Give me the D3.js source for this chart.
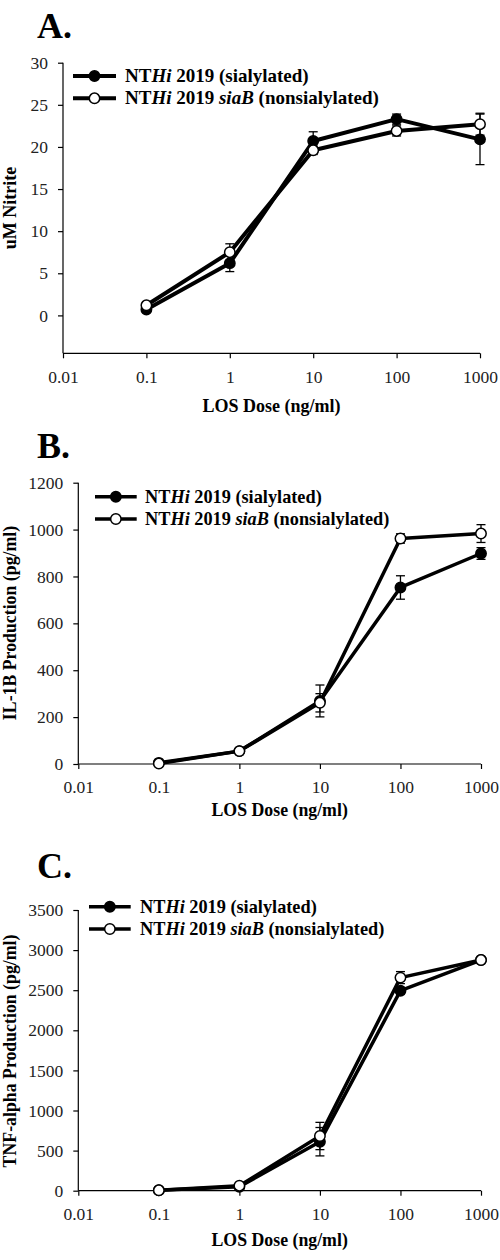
<!DOCTYPE html>
<html><head><meta charset="utf-8">
<script src="https://cdn.jsdelivr.net/npm/d3@7"></script>
<style>body{margin:0;background:#fff}svg{display:block}text{font-family:"Liberation Serif","Times New Roman",Times,"DejaVu Serif",serif;fill:#000}</style>
</head><body><svg id="c" width="500" height="1260"></svg>
<script>
const doses = [0.1, 1, 10, 100, 1000];
const xTicks = [0.01, 0.1, 1, 10, 100, 1000];
const xTickLabels = ["0.01", "0.1", "1", "10", "100", "1000"];
const seriesNames = ["sialylated", "nonsialylated"];

const nitriteSial = [0.7, 6.2, 20.7, 23.3, 20.9];
const nitriteSialErr = [0.3, 1.0, 1.1, 0.6, 3.0];
const nitriteNon = [1.2, 7.5, 19.6, 21.9, 22.7];
const nitriteNonErr = [0.3, 1.0, 0.5, 0.6, 1.3];
const nitriteTicks = [0, 5, 10, 15, 20, 25, 30];

const il1bSial = [5, 55, 269, 753, 898];
const il1bSialErr = [3, 5, 68, 50, 25];
const il1bNon = [2, 55, 261, 962, 983];
const il1bNonErr = [2, 5, 39, 20, 38];
const il1bTicks = [0, 200, 400, 600, 800, 1000, 1200];

const tnfSial = [5, 50, 611, 2494, 2876];
const tnfSialErr = [3, 10, 177, 40, 20];
const tnfNon = [5, 62, 682, 2657, 2876];
const tnfNonErr = [3, 10, 170, 75, 20];
const tnfTicks = [0, 500, 1000, 1500, 2000, 2500, 3000, 3500];

const panels = [
  {letter:"A.", ly:38, yTitle:"uM Nitrite", yDomain:[-4.5,30], ticks:nitriteTicks,
   x0:63, x1:480, yTop:62.7, yBot:353.3, sial:nitriteSial, sErr:nitriteSialErr, non:nitriteNon, nErr:nitriteNonErr,
   legX:[73,116], legY:[76,98.3], legTx:125, legFs:19, xTitleY:412, tickFs:17.5, titleFs:18, yTitleY:208, lw:4},
  {letter:"B.", ly:458, yTitle:"IL-1B Production (pg/ml)", yDomain:[0,1200], ticks:il1bTicks,
   x0:78.3, x1:481, yTop:482.7, yBot:764, sial:il1bSial, sErr:il1bSialErr, non:il1bNon, nErr:il1bNonErr,
   legX:[95,136.7], legY:[496.7,519], legTx:145, legFs:18.3, xTitleY:816, tickFs:17.5, titleFs:17.8, yTitleY:623, lw:3.5},
  {letter:"C.", ly:878, yTitle:"TNF-alpha Production (pg/ml)", yDomain:[0,3500], ticks:tnfTicks,
   x0:78.3, x1:481, yTop:910, yBot:1190.7, sial:tnfSial, sErr:tnfSialErr, non:tnfNon, nErr:tnfNonErr,
   legX:[89,130.7], legY:[906.7,929], legTx:140, legFs:18.3, xTitleY:1246, tickFs:17.5, titleFs:17.8, yTitleY:1051, lw:3.5}
];

const svg = d3.select("#c");

panels.forEach(p => {
  const g = svg.append("g");
  const x = d3.scaleLog().domain([0.01, 1000]).range([p.x0, p.x1]);
  const y = d3.scaleLinear().domain(p.yDomain).range([p.yBot, p.yTop]);

  g.append("text").attr("x", 37).attr("y", p.ly).attr("font-size", 36).attr("font-weight", "bold").text(p.letter);

  const xa = g.append("g").attr("transform", `translate(0,${p.yBot})`)
    .call(d3.axisBottom(x).tickValues(xTicks).tickFormat((d,i) => xTickLabels[i]).tickSize(5).tickPadding(12));
  const ya = g.append("g").attr("transform", `translate(${p.x0},0)`)
    .call(d3.axisLeft(y).tickValues(p.ticks).tickFormat(d3.format("d")).tickSize(5).tickPadding(10));
  [xa, ya].forEach(a => {
    a.attr("font-family", null);
    a.select(".domain").attr("stroke", "#000").attr("stroke-width", 1.2);
    a.selectAll(".tick line").attr("stroke", "#000").attr("stroke-width", 1.2);
    a.selectAll(".tick text").attr("font-size", p.tickFs).style("fill", "#222");
  });
  xa.select(".domain").attr("d", `M${p.x0},0H${p.x1}`);
  ya.select(".domain").attr("d", `M0,${p.yTop}V${p.yBot}`);

  g.append("text").attr("x", (p.x0 + p.x1) / 2).attr("y", p.xTitleY).attr("text-anchor", "middle")
    .attr("font-size", p.titleFs).attr("font-weight", "bold").text("LOS Dose (ng/ml)");
  g.append("text").attr("transform", `translate(16,${p.yTitleY}) rotate(-90)`).attr("text-anchor", "middle")
    .attr("font-size", p.titleFs).attr("font-weight", "bold").text(p.yTitle);

  const series = [
    {vals:p.sial, err:p.sErr, fill:"#000"},
    {vals:p.non, err:p.nErr, fill:"#fff"}
  ];
  const line = d3.line().x((d,i) => x(doses[i])).y(d => y(d));
  series.forEach(s => {
    g.append("path").attr("d", line(s.vals)).attr("fill", "none").attr("stroke", "#000")
      .attr("stroke-width", p.lw).attr("stroke-linejoin", "round");
  });
  series.forEach(s => {
    s.vals.forEach((v, i) => {
      const cx = x(doses[i]);
      const eb = g.append("g").attr("stroke", "#000").attr("stroke-width", 1.3);
      eb.append("line").attr("x1", cx).attr("x2", cx).attr("y1", y(v - s.err[i])).attr("y2", y(v + s.err[i]));
      [v - s.err[i], v + s.err[i]].forEach(e =>
        eb.append("line").attr("x1", cx - 4.5).attr("x2", cx + 4.5).attr("y1", y(e)).attr("y2", y(e)));
    });
  });
  series.forEach(s => {
    g.selectAll(null).data(s.vals).enter().append("circle")
      .attr("cx", (d,i) => x(doses[i])).attr("cy", d => y(d)).attr("r", 5.2)
      .attr("fill", s.fill).attr("stroke", "#000").attr("stroke-width", 1.5);
  });

  const labels = [
    [["NT",""],["Hi","i"],[" 2019 (sialylated)",""]],
    [["NT",""],["Hi","i"],[" 2019 ",""],["siaB","i"],[" (nonsialylated)",""]]
  ];
  series.forEach((s, k) => {
    const ly = p.legY[k];
    g.append("line").attr("x1", p.legX[0]).attr("x2", p.legX[1]).attr("y1", ly).attr("y2", ly)
      .attr("stroke", "#000").attr("stroke-width", p.lw);
    g.append("circle").attr("cx", (p.legX[0] + p.legX[1]) / 2).attr("cy", ly).attr("r", 5.2)
      .attr("fill", s.fill).attr("stroke", "#000").attr("stroke-width", 1.5);
    const t = g.append("text").attr("x", p.legTx).attr("y", ly + 6).attr("font-size", p.legFs).attr("font-weight", "bold");
    labels[k].forEach(([str, st]) => t.append("tspan").attr("font-style", st ? "italic" : "normal").text(str));
  });
});
</script></body></html>
